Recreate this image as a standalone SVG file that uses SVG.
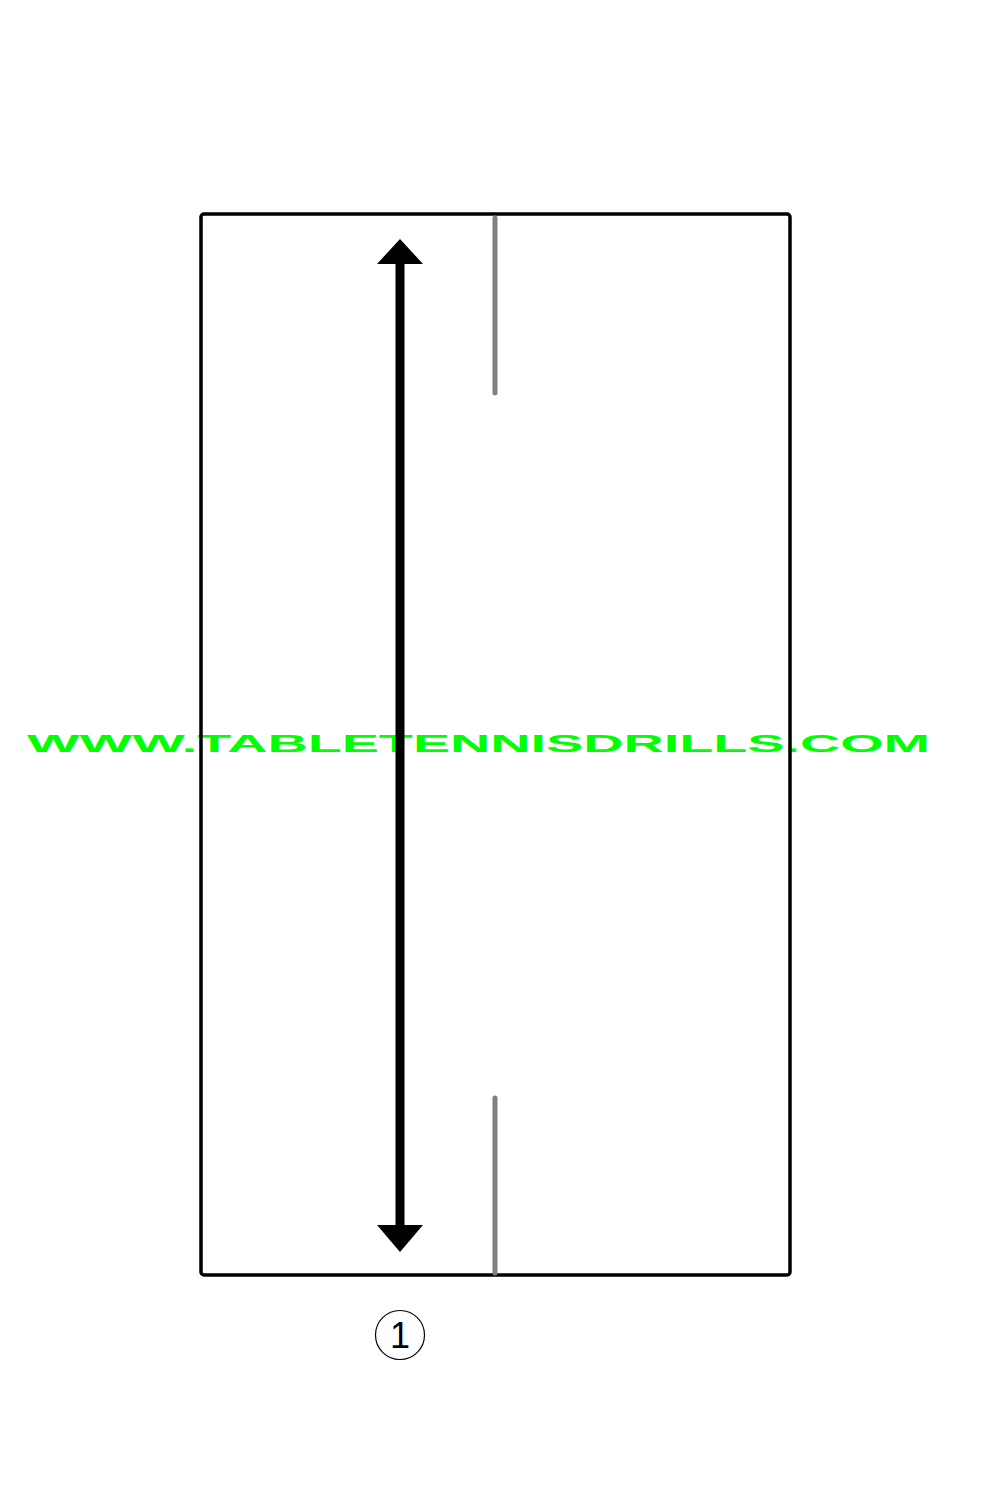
<svg xmlns="http://www.w3.org/2000/svg" width="1000" height="1500" viewBox="0 0 1000 1500">
<style>
.wm{font-family:"Liberation Sans",Arial,sans-serif;font-weight:bold;fill:#00ff00}
.net{stroke:#808080;stroke-width:5;stroke-linecap:round}
.lbl{font-family:"Liberation Sans",Arial,sans-serif;fill:#000}
</style>
<defs>
<marker id="ah" viewBox="0 0 46 26" refX="44" refY="13" markerWidth="46" markerHeight="26" markerUnits="userSpaceOnUse" orient="auto">
<path d="M0,0 L46,13 L0,26 Z" fill="#000"/>
</marker>
</defs>
<rect width="1000" height="1500" fill="#fff"/>
<g id="watermark">
<text class="wm" x="27" y="752" font-size="24" textLength="903" lengthAdjust="spacingAndGlyphs">WWW.TABLETENNISDRILLS.COM</text>
</g>
<g id="table">
<rect x="201" y="214" width="589" height="1061" rx="3" fill="none" stroke="#000" stroke-width="3.5"/>
<line class="net" x1="495" y1="218" x2="495" y2="393"/>
<line class="net" x1="495" y1="1098" x2="495" y2="1273"/>
</g>
<g id="connectors">
<line x1="400" y1="262" x2="400" y2="1226" stroke="#000" stroke-width="9"/>
<path d="M400,239 L423,264 L377,264 Z" fill="#000"/>
<path d="M400,1252 L423,1225 L377,1225 Z" fill="#000"/>
</g>
<g id="player1">
<circle cx="400" cy="1335" r="24.5" fill="none" stroke="#000" stroke-width="1.2"/>
<text class="lbl" x="400" y="1348" font-size="36" text-anchor="middle">1</text>
</g>
</svg>
